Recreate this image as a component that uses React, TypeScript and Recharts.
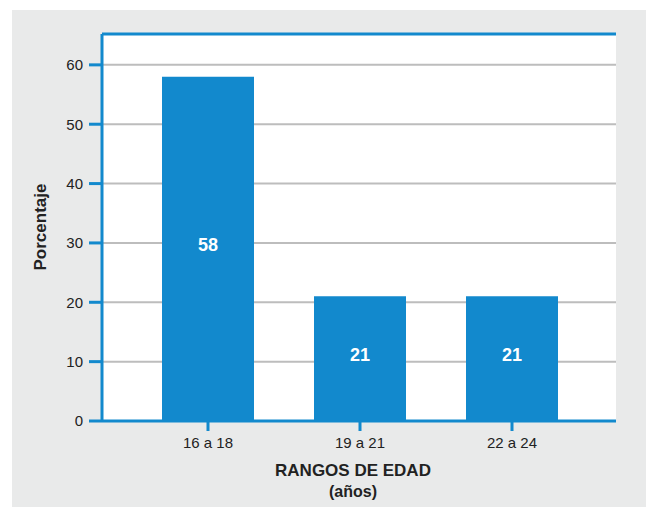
import { BarChart, Bar, XAxis, YAxis, CartesianGrid, LabelList, ReferenceLine, Label } from 'recharts';

const categories = ['16 a 18', '19 a 21', '22 a 24'];
const percentages = [58, 21, 21];
const yTicks = [0, 10, 20, 30, 40, 50, 60];

const BLUE = '#1289cd';
const TEXT = '#222';
const FONT = '"Liberation Sans", Arial, Helvetica, sans-serif';

const data = categories.map((range, i) => ({ range, value: percentages[i] }));

const XTitle = (props: any) => {
  const { viewBox } = props;
  const cx = viewBox.x + viewBox.width / 2 - 6;
  return (
    <g>
      <text x={cx} y={476} textAnchor="middle" fontSize={17} fontWeight="bold" fill={TEXT}>
        RANGOS DE EDAD
      </text>
      <text x={cx} y={497} textAnchor="middle" fontSize={16} fontWeight="bold" fill={TEXT}>
        (años)
      </text>
    </g>
  );
};

const YTitle = () => (
  <text
    x={40}
    y={227}
    transform="rotate(-90 40 227)"
    textAnchor="middle"
    dominantBaseline="central"
    fontSize={17}
    fontWeight="bold"
    fill={TEXT}
  >
    Porcentaje
  </text>
);

const App = () => {
  return (
    <div style={{ position: 'absolute', top: 0, left: 0, width: 646, height: 507, background: '#fff', fontFamily: FONT }}>
      <div style={{ position: 'absolute', left: 12, top: 10, width: 634, height: 497, background: '#e9eaea' }} />
      <div style={{ position: 'absolute', left: 0, top: 0 }}>
        <BarChart
          width={646}
          height={507}
          data={data}
          margin={{ top: 34, right: 30, left: 0, bottom: 0 }}
          style={{ fontFamily: FONT }}
        >
          <CartesianGrid vertical={false} stroke="#bdbdbd" strokeWidth={2} fill="#fff" />
          <XAxis
            dataKey="range"
            height={86}
            padding={{ left: 30, right: 28 }}
            axisLine={{ stroke: BLUE, strokeWidth: 3 }}
            tickLine={{ stroke: BLUE, strokeWidth: 3 }}
            tickSize={10}
            tickMargin={6}
            tick={{ fontSize: 15, fill: TEXT }}
          >
            <Label content={<XTitle />} />
          </XAxis>
          <YAxis
            width={102}
            domain={[0, 65.2]}
            ticks={yTicks}
            interval={0}
            axisLine={{ stroke: BLUE, strokeWidth: 3 }}
            tickLine={{ stroke: BLUE, strokeWidth: 3 }}
            tickSize={13}
            tickMargin={6}
            tick={{ fontSize: 15, fill: TEXT }}
          >
            <Label content={<YTitle />} />
          </YAxis>
          <YAxis
            yAxisId="right"
            orientation="right"
            width={0}
            domain={[0, 65.2]}
            tick={false}
            tickLine={false}
            axisLine={{ stroke: BLUE, strokeWidth: 3 }}
          />
          <ReferenceLine y={65.2} stroke={BLUE} strokeWidth={3} />
          <Bar dataKey="value" fill={BLUE} barSize={92} isAnimationActive={false}>
            <LabelList
              dataKey="value"
              position="center"
              fill="#fff"
              fontSize={18}
              fontWeight="bold"
              dy={-4}
            />
          </Bar>
        </BarChart>
      </div>
    </div>
  );
};

export default App;
